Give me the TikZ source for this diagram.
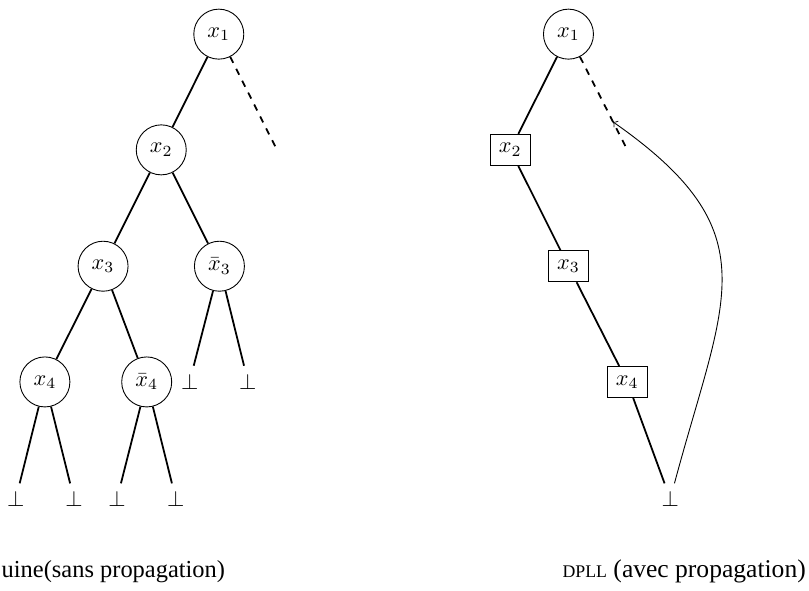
\documentclass[tikz,border=0pt]{standalone}
\usepackage{fontspec}
\setmainfont{Liberation Serif}
\usepackage{tikz}
\usetikzlibrary{arrows}

\begin{document}
\begin{tikzpicture}[
    var/.style={draw, circle, minimum size=22.5pt, inner sep=0pt},
    unit/.style={draw, rectangle, minimum width=18pt, minimum height=14pt, inner sep=1pt},
    branch/.style={thick}
  ]

  \useasboundingbox (0,0) rectangle (12.794,-9.331);

  % Define nodes (Quine)
  \node[var] (q1) at (3.46,-0.54) {$x_1$};
  \node[var] (q2) at (2.55,-2.37) {$x_2$};
  \node[var] (q3) at (1.63,-4.21) {$x_3$};
  \node[var] (qn3) at (3.47,-4.21) {$\bar{x}_3$};
  \node[var] (q4) at (0.71,-6.04) {$x_4$};
  \node[var] (qn4) at (2.32,-6.04) {$\bar{x}_4$};
  \node (qb1) at (0.25,-7.89) {$\bot$};
  \node (qb2) at (1.17,-7.89) {$\bot$};
  \node (qb3) at (1.85,-7.89) {$\bot$};
  \node (qb4) at (2.78,-7.89) {$\bot$};
  \node (qb5) at (3.00,-6.03) {$\bot$};
  \node (qb6) at (3.92,-6.03) {$\bot$};
  \coordinate (qopen) at (4.38,-2.37);

  % Define nodes (DPLL)
  \node[var] (d1) at (8.99,-0.54) {$x_1$};
  \node[unit] (d2) at (8.07,-2.37) {$x_2$};
  \node[unit] (d3) at (8.99,-4.21) {$x_3$};
  \node[unit] (d4) at (9.92,-6.04) {$x_4$};
  \node (db) at (10.60,-7.89) {$\bot$};
  \coordinate (dopen) at (9.92,-2.37);

  % Captions
  \node[anchor=base west, inner sep=0pt, font=\fontsize{11}{13}\selectfont] (qcap) at (0.02,-9.14) {uine(sans propagation)};
  \node[anchor=base east, inner sep=0pt, font=\fontsize{11.5}{13.5}\selectfont] (dcap) at (12.75,-9.14) {{\fontsize{8}{9.6}\selectfont DPLL} (avec propagation)};

  % Connect the nodes (Quine)
  \draw[branch] (q1) -- (q2);
  \draw[branch, dashed] (q1) -- (qopen);
  \draw[branch] (q2) -- (q3);
  \draw[branch] (q2) -- (qn3);
  \draw[branch] (q3) -- (q4);
  \draw[branch] (q3) -- (qn4);
  \draw[branch] (q4) -- (qb1);
  \draw[branch] (q4) -- (qb2);
  \draw[branch] (qn4) -- (qb3);
  \draw[branch] (qn4) -- (qb4);
  \draw[branch] (qn3) -- (qb5);
  \draw[branch] (qn3) -- (qb6);

  % Connect the nodes (DPLL)
  \draw[branch] (d1) -- (d2);
  \draw[branch, dashed] (d1) -- (dopen) coordinate[pos=0.7] (dback);
  \draw[branch] (d2) -- (d3);
  \draw[branch] (d3) -- (d4);
  \draw[branch] (d4) -- (db);
  \draw[->] (db) to[out=75, in=-35, looseness=1.35] (dback);

\end{tikzpicture}
\end{document}
